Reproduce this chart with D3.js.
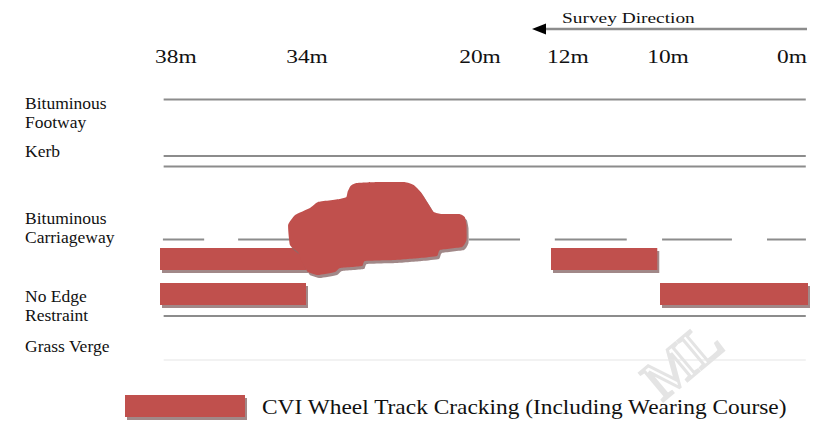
<!DOCTYPE html>
<html><head><meta charset="utf-8">
<script src="https://cdn.jsdelivr.net/npm/d3@7"></script>
<style>body{margin:0;background:#fff}svg{display:block}</style>
</head><body>
<svg id="c" width="830" height="422"></svg>
<script>
// ---------- DATA ----------
const tickDistances = [38, 34, 20, 12, 10, 0];          // metres
const tickLabels = ["38m", "34m", "20m", "12m", "10m", "0m"];

const rowLabels = [["Bituminous", "Footway"], ["Kerb"], ["Bituminous", "Carriageway"], ["No Edge", "Restraint"], ["Grass Verge"]];

// Wheel track cracking segments (metres)
const crackStart = [38, 12, 38, 10];
const crackEnd   = [34, 10.05, 34, 0];
const crackTrack = ["offside", "offside", "nearside", "nearside"];

// Road survey extent (metres)
const roadFrom = 37.9, roadTo = 0.15;
// Carriageway centre-line dashes (metres)
const dashFrom = [37.92, 35.86, 20.10, 11.93, 9.86, 2.77];
const dashTo   = [36.79, 34.20, 15.06, 10.61, 5.14, 0.14];

// Cracked area outline: distance (m) and lateral offset (cm)
const areaDist = [30.45, 30.20, 29.70, 27.80, 25.60, 24.80, 24.20, 23.60, 23.10, 22.40, 20.90, 20.45, 20.30, 20.30, 20.68, 22.56, 22.82, 24.27, 26.40, 28.96, 29.22, 31.10, 31.52, 32.98, 33.83, 34.11, 34.22, 34.44, 34.49, 34.30, 33.66, 32.98, 31.10, 30.55];
const areaLat  = [112, 106, 103, 102, 102, 105, 112, 123, 132, 134, 134, 137, 145, 160, 167, 170, 176, 178, 180, 181, 186, 188, 192, 195, 192, 182, 172, 165, 145, 135, 128, 122, 119, 117];

const legendLabel = "CVI Wheel Track Cracking (Including Wearing Course)";
const directionLabel = "Survey Direction";

// ---------- LAYOUT / STYLE ----------
const RED = "#C0504D", SHADOW = "#8a6a6a", GREY = "#8c8c8c";
const serif = "'Liberation Serif','Times New Roman',serif";
const svg = d3.select("#c");

const x = d3.scaleLinear().domain(tickDistances).range([160, 306, 470, 551, 660, 808]);
const y = d3.scaleLinear().domain([0, 300]).range([80, 380]); // lateral offset (cm)

const lat = { footway: 19.5, kerb1: 76, kerb2: 86.5, centre: 159.5, edge: 236, verge: 280 };
const track = { offside: [168, 190], nearside: [203, 225] };
const labelLat = [29.3, 77.3, 143.7, 221.7, 272.3];

function stretchedText(g, tx, ty, str, size, sx, anchor, fill) {
  g.append("g").attr("transform", `translate(${tx},${ty}) scale(${sx},1)`)
    .append("text").attr("text-anchor", anchor || "start")
    .attr("font-family", serif).attr("font-size", size).attr("fill", fill || "#111")
    .text(str);
}

// Watermark (faint)
svg.append("text").attr("transform", "translate(662,402) rotate(-40)")
  .attr("font-family", serif).attr("font-size", 56).attr("fill", "none")
  .attr("stroke", "#e4e4e4").attr("stroke-width", 3).text("ML");

// Row labels
const lblG = svg.append("g");
rowLabels.forEach((lines, i) => {
  lines.forEach((t, j) => {
    lblG.append("text").attr("x", 25).attr("y", y(labelLat[i]) + j * 19)
      .attr("font-family", serif).attr("font-size", 17.5).attr("fill", "#111").text(t);
  });
});

// Tick labels
const tickAnchor = ["start", "middle", "middle", "start", "middle", "end"];
const tickDx = [-5, 1, 10, -4, 8, -1];
tickDistances.forEach((d, i) => stretchedText(svg, x(d) + tickDx[i], 63, tickLabels[i], 19.5, 1.2, tickAnchor[i]));

// Survey direction
svg.append("line").attr("x1", x(0) - 1).attr("x2", x(12) - 6).attr("y1", 29).attr("y2", 29)
  .attr("stroke", GREY).attr("stroke-width", 2.5);
svg.append("path").attr("d", d3.line()([[x(12) - 19, 29], [x(12) - 5, 23.5], [x(12) - 5, 34.5]]) + "Z").attr("fill", "#000");
stretchedText(svg, 562, 22.5, directionLabel, 15.5, 1.25, "start");

// Road lines
[lat.footway, lat.kerb1, lat.kerb2, lat.edge].forEach(l => {
  svg.append("line").attr("x1", x(roadFrom)).attr("x2", x(roadTo)).attr("y1", y(l)).attr("y2", y(l))
    .attr("stroke", GREY).attr("stroke-width", 2);
});
svg.append("line").attr("x1", x(roadFrom)).attr("x2", x(roadTo)).attr("y1", y(lat.verge)).attr("y2", y(lat.verge))
  .attr("stroke", "#e6e6e6").attr("stroke-width", 1.2);
dashFrom.forEach((f, i) => {
  svg.append("line").attr("x1", x(f)).attr("x2", x(dashTo[i])).attr("y1", y(lat.centre)).attr("y2", y(lat.centre))
    .attr("stroke", GREY).attr("stroke-width", 2);
});

// Cracking bars
const bars = svg.append("g");
crackStart.forEach((s, i) => {
  const [t0, t1] = track[crackTrack[i]];
  const bx = x(s), bw = x(crackEnd[i]) - x(s), by = y(t0), bh = y(t1) - y(t0);
  bars.append("rect").attr("x", bx + 2).attr("y", by + 3).attr("width", bw).attr("height", bh)
    .attr("fill", SHADOW).attr("opacity", 0.8);
  bars.append("rect").attr("x", bx).attr("y", by).attr("width", bw).attr("height", bh).attr("fill", RED);
});

// Cracked area
const pts = areaDist.map((d, i) => [x(d), y(areaLat[i])]);
const area = d3.line().curve(d3.curveCardinalClosed.tension(0.6));
svg.append("path").attr("d", area(pts)).attr("transform", "translate(2,3)").attr("fill", SHADOW).attr("opacity", 0.8);
svg.append("path").attr("d", area(pts)).attr("fill", RED);

// Legend
svg.append("rect").attr("x", 127).attr("y", 398).attr("width", 120).attr("height", 22).attr("fill", SHADOW).attr("opacity", 0.8);
svg.append("rect").attr("x", 125).attr("y", 395).attr("width", 120).attr("height", 22).attr("fill", RED);
stretchedText(svg, 262, 413.5, legendLabel, 20, 1.17, "start");
</script></body></html>
